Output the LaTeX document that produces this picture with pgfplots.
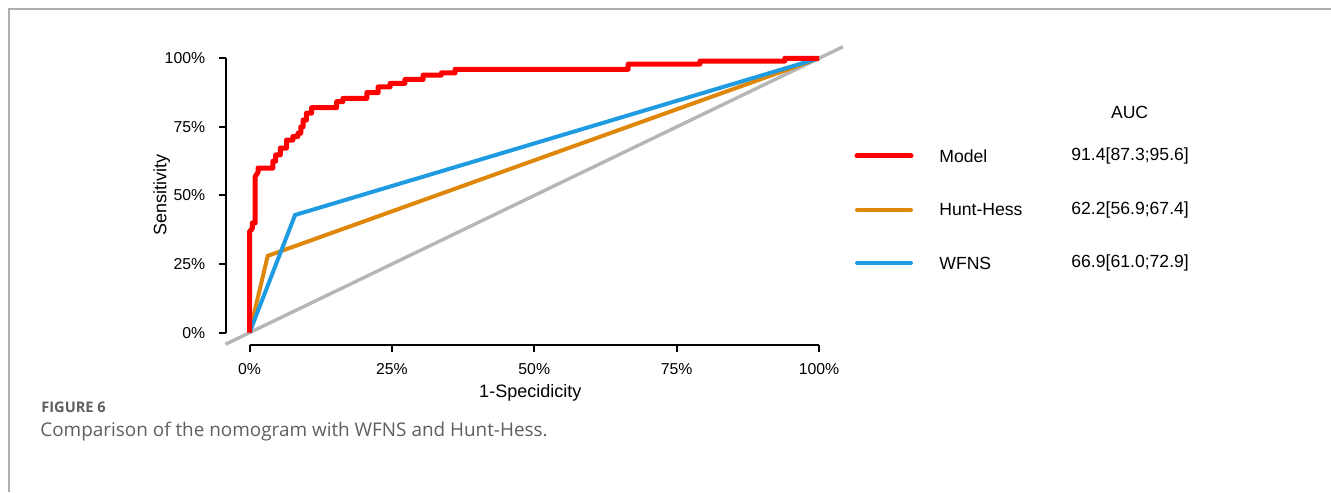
\documentclass[border=0pt]{standalone}
\usepackage{fontspec}
\setmainfont{Liberation Sans}
\newfontfamily\capfont{Open Sans}
\usepackage{pgfplots}
\pgfplotsset{compat=1.18}
\definecolor{rocred}{RGB}{255,0,0}
\definecolor{rocorange}{RGB}{222,135,10}
\definecolor{rocblue}{RGB}{30,155,225}
\definecolor{rocgray}{RGB}{182,182,182}
\definecolor{framegray}{RGB}{175,175,175}
\definecolor{capgray}{RGB}{95,95,95}
\pgfplotsset{
  rocbase/.style={
    scale only axis, clip=false,
    axis line style={black, line width=1pt},
    tick align=outside, major tick length=3.5pt,
    tick style={black, line width=1pt},
    xtick={0,25,50,75,100}, ytick={0,25,50,75,100},
    xticklabels={0\%,25\%,50\%,75\%,100\%},
    yticklabels={0\%,25\%,50\%,75\%,100\%},
    tick label style={font=\fontsize{7.9}{9}\selectfont},
  }
}
\begin{document}
\begin{tikzpicture}
\path[use as bounding box] (0,0) rectangle (665.5pt,246pt);
\draw[framegray, line width=0.8pt] (4.6pt,0) -- (4.6pt,241.6pt) -- (665.5pt,241.6pt);
% y axis only
\begin{axis}[rocbase,
  at={(113pt,79.65pt)}, anchor=south west,
  width=296.5pt, height=137.2pt,
  xmin=-4.126, xmax=100, ymin=0, ymax=100,
  axis y line*=left, axis x line=none,
  yticklabel style={xshift=-3.4pt},
  ylabel={Sensitivity},
  ylabel style={at={(axis description cs:-0.1082,0.502)}, anchor=center, font=\fontsize{9}{11}\selectfont},
]
\addplot[draw=none, forget plot] coordinates {(0,0)};
\end{axis}
% x axis and data
\begin{axis}[rocbase,
  at={(124.75pt,73.5pt)}, anchor=south west,
  width=284.75pt, height=143.35pt,
  xmin=0, xmax=100, ymin=-4.48, ymax=100,
  axis x line*=bottom, axis y line=none,
  xticklabel style={yshift=-2.2pt},
  xlabel={1-Specidicity},
  xlabel style={at={(axis description cs:0.493,-0.168)}, anchor=center, font=\fontsize{9}{11}\selectfont},
]
\addplot[rocgray, line width=1.7pt] coordinates {(-4.2,-4.2) (104.2,104.2)};
\addplot[rocorange, line width=2pt] coordinates {(0,0) (3.2,28) (100,100)};
\addplot[rocblue, line width=2pt] coordinates {(0,0) (8,42.9) (100,100)};
\addplot[rocred, line width=2.5pt, line join=round] coordinates {
(0,0) (0,36.8) (0.5,38) (0.5,40) (1.0,40) (1.0,56.9) (1.5,58.5) (1.5,60)
(4.1,60) (4.1,62.5) (4.6,62.5) (4.6,64.8) (5.4,64.8) (5.4,67.3) (6.5,67.3) (6.5,70.2)
(7.6,70.2) (7.6,71.5) (8.5,71.5) (8.5,72.7) (9.0,72.7) (9.0,75) (9.4,75) (9.4,77.5)
(10,77.5) (10,80) (10.9,80) (10.9,82) (15.3,82) (15.3,84.2) (16.4,84.2) (16.4,85.4)
(20.6,85.4) (20.6,87.5) (22.6,87.5) (22.6,89.6) (24.7,89.6) (24.7,90.9) (27.3,90.9)
(27.3,92.3) (30.5,92.3) (30.5,93.9) (33.7,93.9) (33.7,94.7) (36.1,94.7) (36.1,96)
(66.5,96) (66.5,97.9) (79.1,97.9) (79.1,99) (94,99) (94,100) (100,100)};
\end{axis}
% legend
\draw[rocred, line width=2.5pt, line cap=round] (428.5pt,168pt) -- (455.5pt,168pt);
\draw[rocorange, line width=2pt, line cap=round] (428.5pt,141pt) -- (455.5pt,141pt);
\draw[rocblue, line width=2pt, line cap=round] (428.5pt,114.5pt) -- (455.5pt,114.5pt);
\begin{scope}[every node/.style={inner sep=0pt, font=\fontsize{8.8}{10}\selectfont}]
\node[anchor=center] at (564.8pt,189.8pt) {AUC};
\node[anchor=west] at (469.5pt,168pt) {Model};
\node[anchor=west] at (469.5pt,141pt) {Hunt-Hess};
\node[anchor=west] at (469.5pt,114.5pt) {WFNS};
\node[anchor=west] at (535.5pt,168pt) {91.4[87.3;95.6]};
\node[anchor=west] at (535.5pt,141pt) {62.2[56.9;67.4]};
\node[anchor=west] at (535.5pt,114.5pt) {66.9[61.0;72.9]};
\end{scope}
% caption
\node[anchor=west, inner sep=0pt, text=capgray, font=\capfont\fontsize{7.3}{8}\selectfont\bfseries] at (20.5pt,42.5pt) {FIGURE 6};
\node[anchor=west, inner sep=0pt, text=capgray, font=\capfont\fontsize{9.45}{11}\selectfont] at (20pt,30pt) {Comparison of the nomogram with WFNS and Hunt-Hess.};
\end{tikzpicture}
\end{document}
